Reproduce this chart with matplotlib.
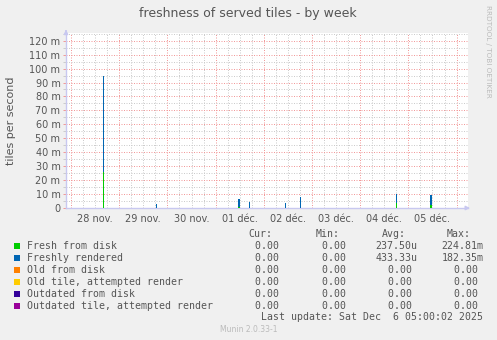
import matplotlib.pyplot as plt
import numpy as np
from matplotlib.pyplot import MultipleLocator, FuncFormatter

# jours depuis le 28 nov. 00:00
t = [0.67, 1.78, 3.485, 3.70, 4.45, 4.76, 6.75, 7.47]
# valeurs en milli-tuiles par seconde
fresh_disk = [26, 0, 1.0, 0, 0, 0, 3.8, 2.0]
freshly_rendered = [69, 3, 5.5, 4.5, 3.8, 7.7, 6.2, 7.3]
zeros = [0] * len(t)

day_labels = ['28 nov.', '29 nov.', '30 nov.', '01 déc.', '02 déc.', '03 déc.', '04 déc.', '05 déc.']

names = ['Fresh from disk', 'Freshly rendered', 'Old from disk', 'Old tile, attempted render',
         'Outdated from disk', 'Outdated tile, attempted render']
colors = ['#00CC00', '#0066B3', '#FF8000', '#FFCC00', '#330099', '#990099']
cur = ['0.00', '0.00', '0.00', '0.00', '0.00', '0.00']
vmin = ['0.00', '0.00', '0.00', '0.00', '0.00', '0.00']
avg = [('237.50', 'u'), ('433.33', 'u'), ('0.00', ' '), ('0.00', ' '), ('0.00', ' '), ('0.00', ' ')]
vmax = [('224.81', 'm'), ('182.35', 'm'), ('0.00', ' '), ('0.00', ' '), ('0.00', ' '), ('0.00', ' ')]

W, H = 497, 340
fig = plt.figure(figsize=(W / 100, H / 100), dpi=100, facecolor='#F0F0F0')
ax = fig.add_axes([66 / W, 1 - 208 / H, (468 - 66) / W, (208 - 33) / H])
ax.set_facecolor('white')

RED = '#F29A9A'
GREY = '#CCCCCC'

# barres empilées (une colonne = 30 min)
w = 0.028
bottom = np.zeros(len(t))
for vals, c in zip([fresh_disk, freshly_rendered, zeros, zeros, zeros, zeros], colors):
    ax.bar(t, vals, w, bottom=bottom, color=c, linewidth=0, zorder=3)
    bottom = bottom + np.array(vals)

ax.set_xlim(-0.104, 8.237)
ax.set_ylim(0, 125.5)

ax.yaxis.set_major_locator(MultipleLocator(10))
ax.yaxis.set_minor_locator(MultipleLocator(5))
ax.yaxis.set_major_formatter(FuncFormatter(lambda v, p: '0' if v == 0 else '%d m' % v))
ax.set_xticks(np.arange(len(day_labels)) + 0.5, day_labels)

# grille pointillée
dots = (0, (1, 1.5))
for d in np.arange(0, 8.3, 0.25):
    major = abs(d - round(d)) < 1e-6
    ax.axvline(d, color=RED if major else GREY, lw=0.72, ls=dots, zorder=1)
for v in np.arange(5, 126, 5):
    ax.axhline(v, color=RED if v % 10 == 0 else GREY, lw=0.72, ls=dots, zorder=1)

ax.tick_params(axis='y', which='major', length=2, width=0.72, color=RED, labelsize=7,
               labelcolor='#555555', pad=2)
ax.tick_params(axis='y', which='minor', length=2, width=0.72, color=GREY)
ax.tick_params(axis='x', length=0, labelsize=7, labelcolor='#555555', pad=4)
for s in ['top', 'right']:
    ax.spines[s].set_visible(False)
for s in ['left', 'bottom']:
    ax.spines[s].set_color('#C8C8F0')
    ax.spines[s].set_linewidth(1)

# flèches des axes
ax.annotate('', xy=(0, 1.035), xytext=(0, 0.99), xycoords='axes fraction',
            arrowprops=dict(arrowstyle='-|>', color='#C8C8F0', lw=1, mutation_scale=6))
ax.annotate('', xy=(1.012, 0), xytext=(0.99, 0), xycoords='axes fraction',
            arrowprops=dict(arrowstyle='-|>', color='#C8C8F0', lw=1, mutation_scale=6))

fig.text(248 / W, 1 - 13 / H, 'freshness of served tiles - by week', ha='center', va='center',
         fontsize=9, color='#555555')
fig.text(11 / W, 1 - 120.5 / H, 'tiles per second', rotation=90, ha='center', va='center',
         fontsize=8, color='#555555')
fig.text(488 / W, 1 - 5 / H, 'RRDTOOL / TOBI OETIKER', rotation=270, ha='center', va='top',
         fontsize=5.2, color='#BBBBBB')

# légende
mono = 'DejaVu Sans Mono'
fs = 7.1
hy = 234
for hx, lab in zip([248.3, 316, 382, 446.7], ['Cur:', 'Min:', 'Avg:', 'Max:']):
    fig.text(hx / W, 1 - hy / H, lab, family=mono, fontsize=fs, color='#555555', va='center')
for i in range(len(names)):
    y = 1 - (245.7 + 12 * i) / H
    fig.patches.append(plt.Rectangle((14.3 / W, y - 3 / H), 6 / W, 6 / H, transform=fig.transFigure,
                                     facecolor=colors[i], edgecolor='none'))
    fig.text(26.7 / W, y, names[i], family=mono, fontsize=fs, color='#555555', va='center')
    fig.text(243 / W, y, '%6s' % cur[i], family=mono, fontsize=fs, color='#555555', va='center')
    fig.text(309.7 / W, y, '%6s' % vmin[i], family=mono, fontsize=fs, color='#555555', va='center')
    fig.text(375.7 / W, y, '%6s%s' % avg[i], family=mono, fontsize=fs, color='#555555', va='center')
    fig.text(441.7 / W, y, '%6s%s' % vmax[i], family=mono, fontsize=fs, color='#555555', va='center')

fig.text(483.3 / W, 1 - 317.3 / H, 'Last update: Sat Dec  6 05:00:02 2025', family=mono, fontsize=fs,
         color='#555555', va='center', ha='right')
fig.text(249 / W, 1 - 329.3 / H, 'Munin 2.0.33-1', fontsize=5.5, color='#BBBBBB', ha='center', va='center')

fig.savefig('out.png', dpi=100, facecolor=fig.get_facecolor())
